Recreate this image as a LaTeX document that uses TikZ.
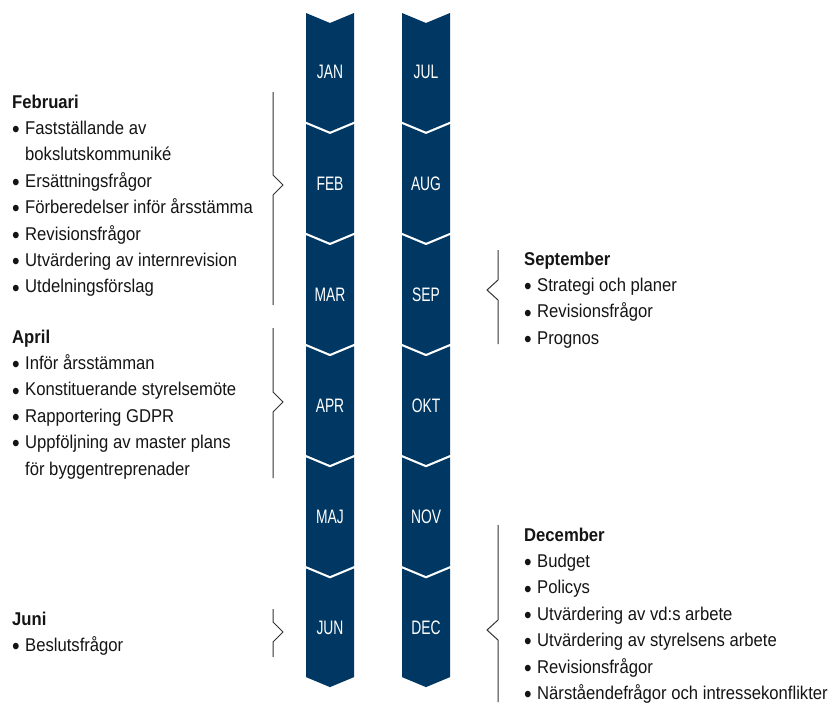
\documentclass[tikz,border=0pt]{standalone}
\usepackage{fontspec}
\usepackage{graphicx}
\setmainfont{Liberation Sans}[FakeStretch=0.9]
\newfontfamily\monthfont{Liberation Sans}[FakeStretch=0.71]
\usetikzlibrary{positioning}
\definecolor{navy}{RGB}{0,56,99}
\definecolor{ink}{RGB}{20,20,20}
\newcommand{\itm}[1]{\makebox[13pt][l]{\raisebox{-3.2pt}{\scalebox{1.3}{\textbullet}}}#1}
\newcommand{\cnt}[1]{\hspace*{13pt}#1}

\begin{document}
\begin{tikzpicture}[x=1pt,y=-1pt,font=\fontsize{18.5}{26.4}\selectfont,
  month/.style={text=white,font=\monthfont\fontsize{19.5}{22}\selectfont},
  txt/.style={anchor=north west,align=left,inner sep=0pt,text=ink},
  brace/.style={draw=black!80,line width=1pt}]
\useasboundingbox (0,0) rectangle (837,702);
% ---- month chevrons, left column (x=306..354) ----
\foreach \k/\m in {0/JAN,1/FEB,2/MAR,3/APR,4/MAJ,5/JUN}{
  \pgfmathsetmacro\t{13+111.1*\k}
  \pgfmathsetmacro\b{\t+108.6}
  \fill[navy] (306,\t) -- (330,\t+10) -- (354,\t) -- (354,\b)
    -- (330,\b+10) -- (306,\b) -- cycle;
  \node[month] (m-\m) at (330,\t+59.3) {\m};
}
% ---- month chevrons, right column (x=402..450) ----
\foreach \k/\m in {0/JUL,1/AUG,2/SEP,3/OKT,4/NOV,5/DEC}{
  \pgfmathsetmacro\t{13+111.1*\k}
  \pgfmathsetmacro\b{\t+108.6}
  \fill[navy] (402,\t) -- (426,\t+10) -- (450,\t) -- (450,\b)
    -- (426,\b+10) -- (402,\b) -- cycle;
  \node[month] (m-\m) at (426,\t+59.3) {\m};
}
% ---- left side notes ----
\node[txt] (t-feb) at (12,94.5) {\textbf{Februari}\\
  \itm{Fastställande av}\\ \cnt{bokslutskommuniké}\\
  \itm{Ersättningsfrågor}\\ \itm{Förberedelser inför årsstämma}\\
  \itm{Revisionsfrågor}\\ \itm{Utvärdering av internrevision}\\
  \itm{Utdelningsförslag}};
\node[txt] (t-apr) at (12,329.5) {\textbf{April}\\
  \itm{Inför årsstämman}\\ \itm{Konstituerande styrelsemöte}\\
  \itm{Rapportering GDPR}\\ \itm{Uppföljning av master plans}\\
  \cnt{för byggentreprenader}};
\node[txt] (t-jun) at (12,611.5) {\textbf{Juni}\\ \itm{Beslutsfrågor}};
% ---- right side notes ----
\node[txt] (t-sep) at (524,251.5) {\textbf{September}\\
  \itm{Strategi och planer}\\ \itm{Revisionsfrågor}\\ \itm{Prognos}};
\node[txt] (t-dec) at (524,527.5) {\textbf{December}\\
  \itm{Budget}\\ \itm{Policys}\\ \itm{Utvärdering av vd:s arbete}\\
  \itm{Utvärdering av styrelsens arbete}\\ \itm{Revisionsfrågor}\\
  \itm{Närståendefrågor och intressekonflikter}};
% ---- braces pointing at the months ----
\draw[brace] (273,92) -- (273,175) -- (283,185) -- (273,195) -- (273,305);
\draw[brace] (273,328) -- (273,392) -- (283,402) -- (273,412) -- (273,478);
\draw[brace] (273,609) -- (273,622) -- (283,632) -- (273,642) -- (273,657);
\draw[brace] (498,250) -- (498,280) -- (487,290) -- (498,300) -- (498,344);
\draw[brace] (498,525) -- (498,620) -- (487,630) -- (498,640) -- (498,702);
\end{tikzpicture}
\end{document}
